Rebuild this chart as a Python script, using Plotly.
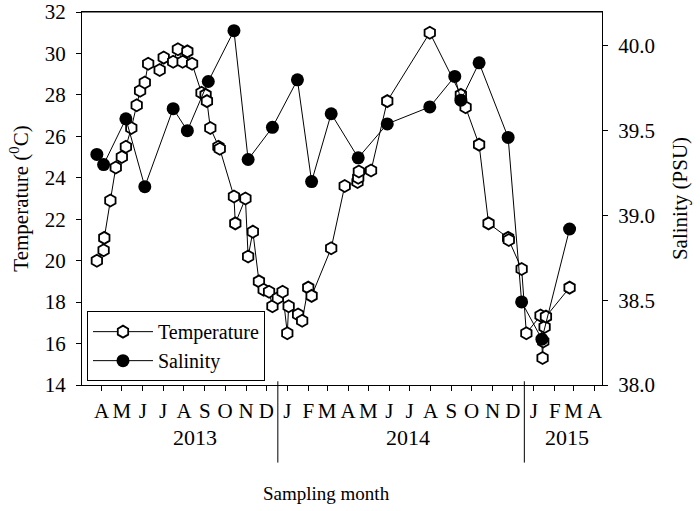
import plotly.graph_objects as go

# Temperature samples (deg C)
temp_dates = [
    "2013-04-08", "2013-04-18", "2013-04-19", "2013-04-28", "2013-05-06", "2013-05-15",
    "2013-05-21", "2013-05-29", "2013-06-06", "2013-06-11", "2013-06-18", "2013-06-23",
    "2013-07-10", "2013-07-16", "2013-07-30", "2013-08-06", "2013-08-13", "2013-08-20",
    "2013-08-27", "2013-09-10", "2013-09-16", "2013-09-18", "2013-09-23", "2013-10-05",
    "2013-10-07", "2013-10-28", "2013-10-30", "2013-11-14", "2013-11-18", "2013-11-25",
    "2013-12-04", "2013-12-11", "2013-12-19", "2013-12-24", "2014-01-01", "2014-01-08",
    "2014-01-15", "2014-01-17", "2014-01-31", "2014-02-06", "2014-02-15", "2014-02-20",
    "2014-03-21", "2014-04-10", "2014-04-29", "2014-04-30", "2014-05-01", "2014-05-19",
    "2014-06-12", "2014-08-14", "2014-09-29", "2014-10-06", "2014-10-26", "2014-11-09",
    "2014-12-08", "2014-12-09", "2014-12-28", "2015-01-04", "2015-01-25", "2015-01-28",
    "2015-01-29", "2015-01-31", "2015-02-02", "2015-03-09",
]
temp_values = [
    20.0, 20.5, 21.1, 22.9, 24.5, 25.0,
    25.5, 26.4, 27.5, 28.2, 28.6, 29.5,
    29.2, 29.8, 29.6, 30.2, 29.6, 30.1,
    29.5, 28.1, 28.0, 27.7, 26.4, 25.5,
    25.4, 23.1, 21.8, 23.0, 20.2, 21.4,
    19.0, 18.6, 18.5, 17.8, 18.2, 18.5,
    16.5, 17.8, 17.4, 17.1, 18.7, 18.3,
    20.6, 23.6, 23.8, 24.0, 24.3, 24.35,
    27.7, 31.0, 28.0, 27.4, 25.6, 21.8,
    21.1, 21.0, 19.6, 16.5, 17.35, 15.3,
    16.1, 16.8, 17.3, 18.7,
]

# Salinity samples (PSU)
sal_dates = [
    "2013-04-08", "2013-04-18", "2013-05-21", "2013-06-18", "2013-07-30", "2013-08-20",
    "2013-09-20", "2013-10-28", "2013-11-18", "2013-12-24", "2014-01-30", "2014-02-20",
    "2014-03-21", "2014-04-30", "2014-06-12", "2014-08-14", "2014-09-20", "2014-09-29",
    "2014-10-26", "2014-12-08", "2014-12-28", "2015-01-27", "2015-03-09",
]
sal_values = [
    39.36, 39.30, 39.57, 39.17, 39.63, 39.50,
    39.79, 40.09, 39.33, 39.52, 39.80, 39.20,
    39.60, 39.34, 39.54, 39.64, 39.82, 39.68,
    39.90, 39.46, 38.49, 38.27, 38.92,
]

# Axis labels
temp_ticks = [14, 16, 18, 20, 22, 24, 26, 28, 30, 32]
sal_ticks = [38.0, 38.5, 39.0, 39.5, 40.0]
month_ticks = [
    "2013-04-15", "2013-05-15", "2013-06-15", "2013-07-15", "2013-08-15", "2013-09-15",
    "2013-10-15", "2013-11-15", "2013-12-15", "2014-01-15", "2014-02-15", "2014-03-15",
    "2014-04-15", "2014-05-15", "2014-06-15", "2014-07-15", "2014-08-15", "2014-09-15",
    "2014-10-15", "2014-11-15", "2014-12-15", "2015-01-15", "2015-02-15", "2015-03-15",
    "2015-04-15",
]
month_text = list("AMJJASOND") + list("JFMAMJJASOND") + list("JFMA")
years = ["2013", "2014", "2015"]
year_centres = ["2013-09-01", "2014-07-13", "2015-03-05"]
year_breaks = ["2014-01-01", "2015-01-01"]

FONT = "Liberation Serif, Times New Roman, serif"

fig = go.Figure()

fig.add_trace(go.Scatter(
    x=temp_dates, y=temp_values, mode="lines+markers", name="Temperature",
    line=dict(color="black", width=1),
    marker=dict(symbol="hexagon", size=12, color="white",
                line=dict(color="black", width=1.8)),
))
fig.add_trace(go.Scatter(
    x=sal_dates, y=sal_values, mode="lines+markers", name="Salinity", yaxis="y2",
    line=dict(color="black", width=1),
    marker=dict(symbol="circle", size=13, color="black"),
))

for d in year_breaks:
    fig.add_shape(type="line", xref="x", yref="paper", x0=d, x1=d, y0=0.01, y1=-0.208,
                  line=dict(color="black", width=1))

# frame top edge
fig.add_shape(type="line", xref="paper", yref="paper", x0=0, x1=1, y0=1, y1=1,
              line=dict(color="black", width=1))

for label, d in zip(years, year_centres):
    fig.add_annotation(x=d, xref="x", y=-0.141, yref="paper", text=label,
                       showarrow=False, yanchor="middle",
                       font=dict(family=FONT, size=22, color="black"))

fig.add_annotation(x=0.47, xref="paper", y=-0.29, yref="paper", text="Sampling month",
                   showarrow=False, yanchor="middle",
                   font=dict(family=FONT, size=19, color="black"))

fig.update_layout(
    width=700, height=511,
    margin=dict(l=82, r=98, t=12, b=126, autoexpand=False),
    plot_bgcolor="white", paper_bgcolor="white",
    font=dict(family=FONT, size=21, color="black"),
    showlegend=True,
    legend=dict(x=0.0096, y=0.198, xanchor="left", yanchor="top",
                bordercolor="black", borderwidth=1, bgcolor="white",
                itemwidth=60, font=dict(family=FONT, size=20), tracegroupgap=0),
    xaxis=dict(
        range=["2013-03-17", "2015-04-26"],
        tickmode="array", tickvals=month_ticks, ticktext=month_text,
        ticks="outside", ticklen=5, tickcolor="black", ticklabelstandoff=2,
        ticklabeloverflow="allow",
        showline=True, linecolor="black", linewidth=1, mirror=True,
        showgrid=False, zeroline=False, tickangle=0,
        tickfont=dict(family=FONT, size=21),
    ),
    yaxis=dict(
        range=[14, 32], tickmode="array", tickvals=temp_ticks,
        ticks="outside", ticklen=5, tickcolor="black", ticklabelstandoff=6,
        ticklabeloverflow="allow",
        showline=True, linecolor="black", linewidth=1,
        showgrid=False, zeroline=False,
        title=dict(text="Temperature (<sup>0</sup>C)", font=dict(family=FONT, size=21),
                   standoff=10),
    ),
    yaxis2=dict(
        range=[38, 40.2], tickmode="array", tickvals=sal_ticks, tickformat=".1f",
        overlaying="y", side="right",
        ticks="outside", ticklen=5, tickcolor="black", ticklabelstandoff=6,
        ticklabeloverflow="allow",
        showline=True, linecolor="black", linewidth=1,
        showgrid=False, zeroline=False,
        title=dict(text="Salinity (PSU)", font=dict(family=FONT, size=21), standoff=18),
    ),
)

fig.write_html("out.html", config={"displayModeBar": False},
               post_script="document.body.style.margin='0';")
